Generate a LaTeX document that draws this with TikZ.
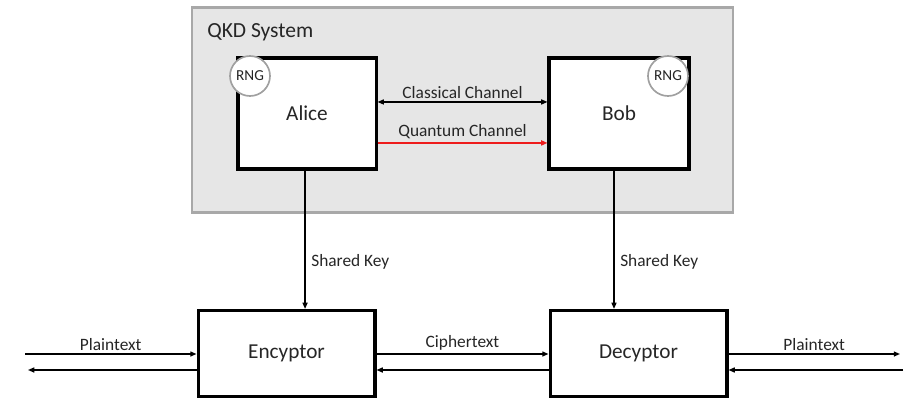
\documentclass[tikz,border=0pt]{standalone}
\usepackage{fontspec}
\setmainfont{Carlito}
\usetikzlibrary{arrows.meta}
\definecolor{sysfill}{HTML}{E6E6E6}
\definecolor{sysdraw}{HTML}{A8A8A8}
\definecolor{rngdraw}{HTML}{A0A0A0}
\definecolor{qred}{HTML}{EE1C1C}
\definecolor{txt}{HTML}{262626}
\begin{document}
\begin{tikzpicture}[x=0.72pt,y=-0.72pt,
  blk/.style={draw=black, line width=2.2pt, fill=white, inner sep=0pt, text=txt, font=\fontsize{15.3}{17}\selectfont},
  rng/.style={circle, draw=rngdraw, line width=1.2pt, fill=white, minimum size=28.8pt, inner sep=0pt, text=txt, font=\fontsize{11}{12}\selectfont},
  conn/.style={line width=1pt, -{Triangle[length=4.5pt,width=3.6pt]}},
  lbl/.style={font=\fontsize{12.5}{14}\selectfont, text=txt, inner sep=1pt}]
\useasboundingbox (0,0) rectangle (912,398);
% QKD system box
\node[draw=sysdraw, fill=sysfill, line width=2pt, minimum width=389.5pt, minimum height=147.6pt, inner sep=0pt] (sys) at (462.5,110) {};
\node[anchor=west, font=\fontsize{15.5}{17}\selectfont, text=txt, inner sep=0pt] (systitle) at (207,32) {QKD System};
% Alice, Bob
\node[blk, minimum width=99.4pt, minimum height=79.9pt, text depth=-2pt] (alice) at (307,113.5) {Alice};
\node[blk, minimum width=100.8pt, minimum height=79.9pt, text depth=-2pt] (bob) at (619,113.5) {Bob};
\node[rng] (rngA) at (250,76) {RNG};
\node[rng] (rngB) at (668,76) {RNG};
% channels
\draw[line width=1pt, {Triangle[length=4.5pt,width=3.6pt]}-{Triangle[length=4.5pt,width=3.6pt]}] ([yshift=8.3pt]alice.east) -- ([yshift=8.3pt]bob.west) node[lbl, midway, above=1pt] (cc) {Classical Channel};
\draw[conn, draw=qred, fill=qred, line width=1.3pt] ([yshift=-21.2pt]alice.east) -- ([yshift=-21.2pt]bob.west) node[lbl, midway, above=1.5pt] (qc) {Quantum Channel};
% Encryptor / Decryptor
\node[blk, minimum width=127.4pt, minimum height=62pt] (enc) at (286.5,353.5) {Encyptor};
\node[blk, minimum width=127.4pt, minimum height=62pt] (dec) at (638.5,353.5) {Decyptor};
% shared keys
\draw[conn] ([xshift=-1.4pt]alice.south) -- ([xshift=-1.4pt]alice.south |- enc.north) node[lbl, pos=0.66, right=3pt] (skA) {Shared Key};
\draw[conn] ([xshift=-3.6pt]bob.south) -- ([xshift=-3.6pt]bob.south |- dec.north) node[lbl, pos=0.66, right=3pt] (skB) {Shared Key};
% outer ends
\coordinate (pL1) at (25,354);
\coordinate (pL2) at (28,370);
\coordinate (pR1) at (900,354);
\coordinate (pR2) at (903,370);
% plaintext left
\draw[conn] (pL1) -- (pL1 -| enc.west) node[lbl, midway, above=1pt] (ptL) {Plaintext};
\draw[conn] (pL2 -| enc.west) -- (pL2);
% ciphertext
\draw[conn] (pL1 -| enc.east) -- (pL1 -| dec.west) node[lbl, midway, above=1pt] (ct) {Ciphertext};
\draw[conn] (pL2 -| dec.west) -- (pL2 -| enc.east);
% plaintext right
\draw[conn] (pR1 -| dec.east) -- (pR1) node[lbl, midway, above=1pt] (ptR) {Plaintext};
\draw[conn] (pR2) -- (pR2 -| dec.east);
\end{tikzpicture}
\end{document}
